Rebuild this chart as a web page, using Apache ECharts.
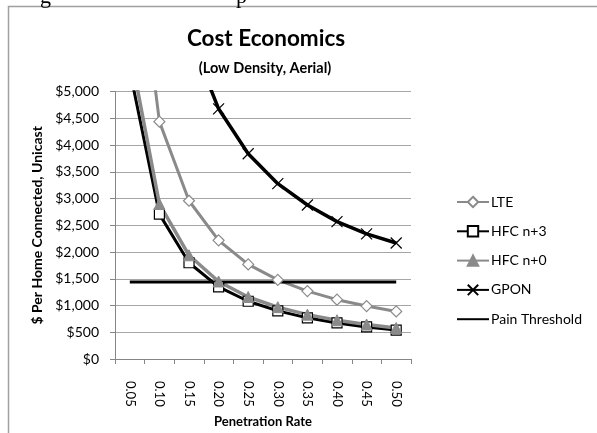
<!DOCTYPE html>
<html>
<head>
<meta charset="utf-8">
<script src="https://cdn.jsdelivr.net/npm/echarts@6/dist/echarts.min.js"></script>
<style>
  html, body { margin: 0; padding: 0; background: #fff; }
  #chart { width: 597px; height: 433px; }
</style>
</head>
<body>
<div id="chart"></div>
<script>
// Penetration rate categories
const categories = ['0.05', '0.10', '0.15', '0.20', '0.25', '0.30', '0.35', '0.40', '0.45', '0.50'];

// Cost per home connected ($), one list per technology
const lte     = [8880, 4440, 2960, 2220, 1770, 1480, 1270, 1110, 990, 890];
const hfcN3   = [5400, 2710, 1800, 1350, 1080, 900, 770, 675, 600, 540];
const hfcN0   = [5800, 2900, 1940, 1450, 1160, 970, 830, 725, 645, 580];
const gpon    = [17200, 8850, 6070, 4680, 3840, 3280, 2880, 2570, 2340, 2170];
const painThreshold = [1440, 1440, 1440, 1440, 1440, 1440, 1440, 1440, 1440, 1440];

// Value axis ticks
const yMin = 0, yMax = 5000, yStep = 500;

const FONT = 'Lato';
const GRAY = '#8a8a8a';
const GRID_GRAY = '#a6a6a6';
const crossPath = 'path://M0,0L10,10M10,0L0,10';

const chart = echarts.init(document.getElementById('chart'), null, { renderer: 'canvas' });

chart.setOption({
  animation: false,
  backgroundColor: '#fff',
  textStyle: { fontFamily: FONT },
  title: [
    { text: 'Cost Economics', left: 261, top: 22, textAlign: 'center',
      textStyle: { fontFamily: FONT, fontSize: 22.5, fontWeight: 'bold', color: '#000' } },
    { text: '(Low Density, Aerial)', left: 260, top: 56, textAlign: 'center',
      textStyle: { fontFamily: FONT, fontSize: 14.5, fontWeight: 'bold', color: '#000' } }
  ],
  graphic: [
    { type: 'rect', shape: { x: 8.5, y: 6.5, width: 700, height: 500 },
      style: { fill: 'none', stroke: '#a0a0a0', lineWidth: 1.5 }, silent: true },
    { type: 'text', x: 40, y: -14, style: { text: 'g', font: '22px "Liberation Serif"', fill: '#000' } },
    { type: 'text', x: 236, y: -14, style: { text: 'p', font: '22px "Liberation Serif"', fill: '#000' } }
  ],
  legend: {
    orient: 'vertical',
    left: 451,
    top: 190,
    itemWidth: 32,
    itemHeight: 13,
    itemGap: 15.3,
    textStyle: { fontFamily: FONT, fontSize: 14, color: '#000', padding: [0, 0, 0, -3] },
    data: ['LTE', 'HFC n+3', 'HFC n+0', 'GPON', 'Pain Threshold']
  },
  grid: { left: 115, right: 186, top: 91.7, bottom: 68.5, containLabel: false },
  xAxis: {
    type: 'category',
    data: categories,
    boundaryGap: true,
    name: 'Penetration Rate',
    nameLocation: 'middle',
    nameGap: 56,
    nameTextStyle: { fontFamily: FONT, fontSize: 13, fontWeight: 'bold', color: '#000' },
    axisLine: { lineStyle: { color: '#868686', width: 1 } },
    axisTick: { show: true, length: 5, alignWithLabel: false, lineStyle: { color: '#868686' } },
    axisLabel: { rotate: -90, margin: 22, fontFamily: FONT, fontSize: 13, color: '#000' },
    splitLine: { show: false }
  },
  yAxis: {
    type: 'value',
    min: yMin,
    max: yMax,
    interval: yStep,
    name: '$ Per Home Connected, Unicast',
    nameLocation: 'middle',
    nameGap: 71,
    nameTextStyle: { fontFamily: FONT, fontSize: 14, fontWeight: 'bold', color: '#000' },
    axisLine: { show: true, lineStyle: { color: '#868686', width: 1 } },
    axisTick: { show: true, length: 5, inside: false, lineStyle: { color: '#868686' } },
    axisLabel: {
      margin: 16,
      fontFamily: FONT,
      fontSize: 14,
      color: '#000',
      formatter: v => '$' + v.toLocaleString('en-US')
    },
    splitLine: { show: true, lineStyle: { color: GRID_GRAY, width: 1 } }
  },
  series: [
    {
      name: 'LTE', type: 'line', data: lte, clip: true,
      symbol: 'diamond', symbolSize: 11,
      lineStyle: { color: GRAY, width: 3 },
      itemStyle: { color: '#fff', borderColor: GRAY, borderWidth: 1.2 }
    },
    {
      name: 'HFC n+3', type: 'line', data: hfcN3, clip: true,
      symbol: 'rect', symbolSize: 10,
      lineStyle: { color: '#000', width: 3 },
      itemStyle: { color: '#fff', borderColor: '#000', borderWidth: 1.2 }
    },
    {
      name: 'HFC n+0', type: 'line', data: hfcN0, clip: true,
      symbol: 'triangle', symbolSize: 11,
      lineStyle: { color: GRAY, width: 3.5 },
      itemStyle: { color: GRAY, borderColor: GRAY, borderWidth: 1 }
    },
    {
      name: 'GPON', type: 'line', data: gpon, clip: true,
      symbol: crossPath, symbolSize: 11,
      lineStyle: { color: '#000', width: 3.5 },
      itemStyle: { color: '#000', borderColor: '#000', borderWidth: 1.2 }
    },
    {
      // plain threshold line: no markers, so the marker style is transparent
      name: 'Pain Threshold', type: 'line', data: painThreshold, clip: true,
      symbol: 'circle', showSymbol: false,
      lineStyle: { color: '#000', width: 3 },
      itemStyle: { color: 'rgba(0,0,0,0)', borderColor: 'rgba(0,0,0,0)', borderWidth: 0 }
    }
  ]
});
</script>
</body>
</html>
